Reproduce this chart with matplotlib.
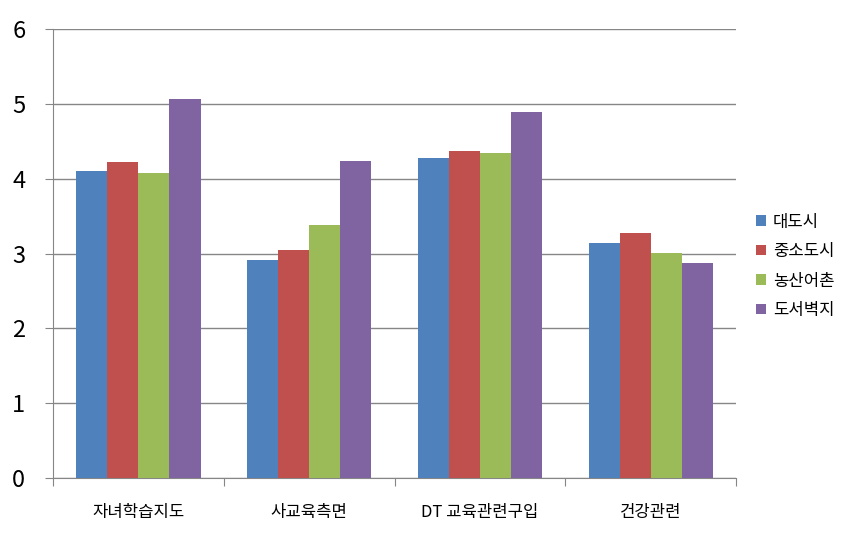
import numpy as np
import matplotlib
matplotlib.use('Agg')
import matplotlib.pyplot as plt

plt.rcParams['font.family'] = ['Noto Sans CJK KR', 'DejaVu Sans']

# data
categories = ['자녀학습지도', '사교육측면', 'DT 교육관련구입', '건강관련']
series_names = ['대도시', '중소도시', '농산어촌', '도서벽지']
big_city = [4.10, 2.92, 4.28, 3.14]
small_city = [4.22, 3.05, 4.37, 3.28]
rural = [4.08, 3.38, 4.35, 3.01]
island = [5.06, 4.24, 4.89, 2.87]
colors = ['#4F81BD', '#C0504D', '#9BBB59', '#8064A2']

fig = plt.figure(figsize=(8.5, 5.38), dpi=100)
ax = fig.add_axes([0.0624, 0.1115, 0.8036, 0.8345])

x = np.arange(len(categories))
bar_w = 1 / 5.5
all_series = [big_city, small_city, rural, island]
for i, (vals, name, c) in enumerate(zip(all_series, series_names, colors)):
    ax.bar(x + (i - 1.5) * bar_w, vals, width=bar_w, color=c, label=name, zorder=3)

ax.set_xlim(-0.5, len(categories) - 0.5)
ax.set_ylim(0, 6)
ax.set_yticks(range(0, 7))
ax.yaxis.grid(True, color='#868686', linewidth=1, zorder=0)

# category boundaries get the tick marks, labels sit in the middle
ax.set_xticks(np.arange(-0.5, len(categories)), minor=False)
ax.set_xticklabels([])
ax.set_xticks(x, minor=True)
ax.set_xticklabels(categories, minor=True, fontsize=12)
ax.tick_params(axis='x', which='minor', length=0, pad=19)
ax.tick_params(axis='x', which='major', length=6, color='#868686')
ax.tick_params(axis='y', length=6, color='#868686', pad=14, labelsize=17)

for s in ['top', 'right']:
    ax.spines[s].set_visible(False)
for s in ['left', 'bottom']:
    ax.spines[s].set_color('#868686')

leg = fig.legend(loc='center left', bbox_to_anchor=(0.872, 0.505), frameon=False,
                 fontsize=12, handlelength=0.6, handleheight=0.6,
                 handletextpad=0.4, labelspacing=0.75)

fig.savefig('out.png', dpi=100)
